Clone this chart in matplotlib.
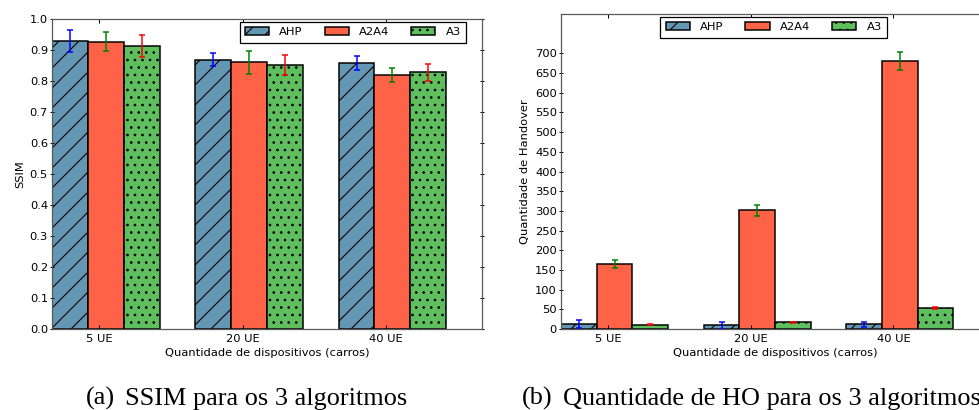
import numpy as np
import matplotlib
matplotlib.use('Agg')
import matplotlib.pyplot as plt

# data
groups = ["5 UE", "20 UE", "40 UE"]
algos = ["AHP", "A2A4", "A3"]

ssim_ahp = [0.930, 0.869, 0.857]
ssim_a2a4 = [0.927, 0.860, 0.820]
ssim_a3 = [0.913, 0.851, 0.828]
ssim_err_ahp = [0.035, 0.022, 0.023]
ssim_err_a2a4 = [0.030, 0.036, 0.022]
ssim_err_a3 = [0.035, 0.032, 0.028]

ho_ahp = [13, 9, 12]
ho_a2a4 = [166, 301, 681]
ho_a3 = [11, 17, 53]
ho_err_ahp = [11, 8, 7]
ho_err_a2a4 = [10, 14, 22]
ho_err_a3 = [1, 1, 2]

colors = ['#6497b4', '#ff6347', '#5fbf5f']
hatches = ['///', '', '....']
err_colors = ['b', 'g', 'r']

DPI = 180
FS = 4.6

plt.rcParams['font.family'] = 'DejaVu Sans'
plt.rcParams['hatch.linewidth'] = 0.45

fig = plt.figure(figsize=(979 / DPI, 410 / DPI), dpi=DPI)

ind = np.arange(len(groups))
width = 0.25
tick_offset = 0.33


def draw(ax, series, errs, ylim, yticks, ylabel, legend_anchor, legend_loc):
    for i, (vals, err) in enumerate(zip(series, errs)):
        ax.bar(ind + i * width, vals, width, align='edge', color=colors[i],
               edgecolor='black', linewidth=0.6, hatch=hatches[i], label=algos[i])
        ax.errorbar(ind + i * width + width / 2, vals, yerr=err, fmt='none',
                    ecolor=err_colors[i], elinewidth=0.6, capsize=1.1, capthick=0.6)
    ax.set_xlim(0, 3)
    ax.set_ylim(*ylim)
    ax.set_yticks(yticks)
    ax.set_xticks(ind + tick_offset)
    ax.set_xticklabels(groups)
    for sp in ax.spines.values():
        sp.set_color('0.35')
        sp.set_linewidth(0.5)
    ax.tick_params(axis='x', direction='in', top=True, length=1.6, width=0.4,
                   labelsize=FS, pad=2.0)
    ax.tick_params(axis='y', direction='inout', right=True, length=1.6, width=0.4,
                   labelsize=FS, pad=0.8)
    ax.set_xlabel("Quantidade de dispositivos (carros)", fontsize=FS, labelpad=1.5)
    ax.set_ylabel(ylabel, fontsize=FS, labelpad=2.0)
    leg = ax.legend(ncol=3, loc=legend_loc, bbox_to_anchor=legend_anchor,
                    borderaxespad=0, fontsize=FS, fancybox=False, framealpha=1,
                    handlelength=2.1, handleheight=0.7, handletextpad=0.9,
                    columnspacing=1.9, borderpad=0.45)
    leg.get_frame().set_edgecolor('black')
    leg.get_frame().set_linewidth(0.5)


ax1 = fig.add_axes([52 / 979, 81 / 410, 430 / 979, 310 / 410])
draw(ax1, [ssim_ahp, ssim_a2a4, ssim_a3],
     [ssim_err_ahp, ssim_err_a2a4, ssim_err_a3],
     (0, 1.0), np.arange(0, 1.01, 0.1), "SSIM",
     (0.963, 0.99), 'upper right')
ax1.set_yticklabels([f"{v:.1f}" for v in np.arange(0, 1.01, 0.1)])

ax2 = fig.add_axes([561 / 979, 81 / 410, 428 / 979, 315 / 410])
draw(ax2, [ho_ahp, ho_a2a4, ho_a3],
     [ho_err_ahp, ho_err_a2a4, ho_err_a3],
     (0, 800), np.arange(0, 701, 50), "Quantidade de Handover",
     (0.497, 0.99), 'upper center')

# captions (subfigure label and text placed apart, like LaTeX subcaption)
cap_font = dict(family='Liberation Serif', fontsize=10.5, va='baseline')
fig.text(86 / 979, 5 / 410, "(a)", **cap_font)
fig.text(125 / 979, 5 / 410, "SSIM para os 3 algoritmos", **cap_font)
fig.text(522 / 979, 5 / 410, "(b)", **cap_font)
fig.text(563 / 979, 5 / 410, "Quantidade de HO para os 3 algoritmos", **cap_font)

fig.savefig('out.png', dpi=DPI, facecolor='white')
